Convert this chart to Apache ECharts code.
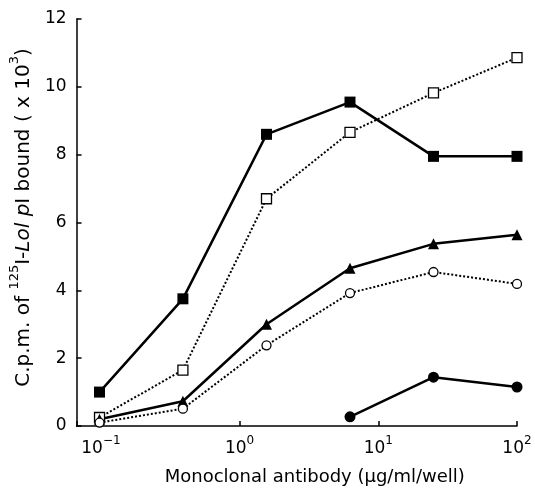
<!DOCTYPE html>
<html>
<head>
<meta charset="utf-8">
<script src="https://cdn.jsdelivr.net/npm/echarts@6/dist/echarts.min.js"></script>
<style>
  html, body { margin: 0; padding: 0; background: #fff; }
  #chart { width: 535px; height: 491px; }
</style>
</head>
<body>
<div id="chart"></div>
<script>
// antibody concentration (ug/ml/well), fourfold dilutions
var conc = [0.0977, 0.39, 1.5625, 6.25, 25, 100];
var filledSquare = [1.0, 3.75, 8.6, 9.55, 7.95, 7.95];
var openSquare = [0.25, 1.65, 6.7, 8.66, 9.82, 10.86];
var filledTriangle = [0.2, 0.73, 3.0, 4.65, 5.37, 5.64];
var openCircle = [0.1, 0.51, 2.38, 3.92, 4.54, 4.19];
var filledCircle = [null, null, null, 0.27, 1.44, 1.15];
var xExponents = [-1, 0, 1, 2];

function pairs(ys) {
  var out = [];
  for (var i = 0; i < conc.length; i++) {
    if (ys[i] != null) out.push([conc[i], ys[i]]);
  }
  return out;
}

var chart = echarts.init(document.getElementById('chart'));
var fontFam = '"DejaVu Sans", sans-serif';

function line(name, ys, symbol, size, filled, dotted) {
  return {
    name: name,
    type: 'line',
    data: pairs(ys),
    symbol: symbol,
    symbolSize: size,
    showAllSymbol: true,
    lineStyle: { color: '#000', width: dotted ? 2 : 2.5, type: dotted ? [2, 2] : 'solid' },
    itemStyle: { color: filled ? '#000' : '#fff', borderColor: '#000', borderWidth: filled ? 0 : 1.3 },
    z: 3
  };
}

chart.setOption({
  animation: false,
  grid: { left: 74, right: 18, top: 19, bottom: 59 },
  xAxis: {
    type: 'log',
    logBase: 10,
    min: 0.0667,
    max: 100,
    name: 'Monoclonal antibody (μg/ml/well)',
    nameLocation: 'middle',
    nameGap: 42,
    nameTextStyle: { color: '#000', fontSize: 18, fontFamily: fontFam, padding: [0, 0, 0, 36] },
    axisLine: { lineStyle: { color: '#000', width: 1.5 } },
    axisTick: { inside: true, length: 5, lineStyle: { color: '#000', width: 1.5 } },
    axisLabel: {
      color: '#000', fontSize: 16, fontFamily: fontFam, margin: 9,
      formatter: function (v) {
        var e = Math.round(Math.log10(v));
        if (Math.abs(Math.log10(v) - e) > 1e-6 || xExponents.indexOf(e) < 0) return '';
        return '{b|10}{s|' + (e < 0 ? '−' + (-e) : e) + '}';
      },
      rich: {
        b: { fontSize: 17, fontFamily: fontFam, color: '#000', verticalAlign: 'bottom', lineHeight: 22 },
        s: { fontSize: 12, fontFamily: fontFam, color: '#000', verticalAlign: 'top', lineHeight: 22 }
      }
    },
    splitLine: { show: false },
    minorTick: { show: false }
  },
  yAxis: {
    type: 'value',
    min: 0,
    max: 12,
    interval: 2,
    name: '{n|C.p.m. of }{s|125}{n|I-}{i|Lol p}{n|I bound ( x 10}{s|3}{n|)}',
    nameLocation: 'middle',
    nameRotate: 90,
    nameGap: 40,
    nameTextStyle: {
      color: '#000', fontSize: 20, fontFamily: fontFam, padding: [0, 0, 0, 10],
      rich: {
        n: { color: '#000', fontSize: 20, fontFamily: fontFam, verticalAlign: 'bottom', lineHeight: 26 },
        i: { color: '#000', fontSize: 20, fontFamily: fontFam, fontStyle: 'italic', verticalAlign: 'bottom', lineHeight: 26 },
        s: { color: '#000', fontSize: 13, fontFamily: fontFam, verticalAlign: 'top', lineHeight: 26 }
      }
    },
    axisLine: { show: true, lineStyle: { color: '#000', width: 1.5 } },
    axisTick: { show: true, inside: true, length: 5, lineStyle: { color: '#000', width: 1.5 } },
    axisLabel: { color: '#000', fontSize: 17, fontFamily: fontFam, margin: 10 },
    splitLine: { show: false }
  },
  series: [
    line('filled square', filledSquare, 'rect', 11, true, false),
    line('open square', openSquare, 'rect', 10, false, true),
    line('filled triangle', filledTriangle, 'triangle', 11, true, false),
    line('open circle', openCircle, 'circle', 9, false, true),
    line('filled circle', filledCircle, 'circle', 11, true, false)
  ]
});
</script>
</body>
</html>
